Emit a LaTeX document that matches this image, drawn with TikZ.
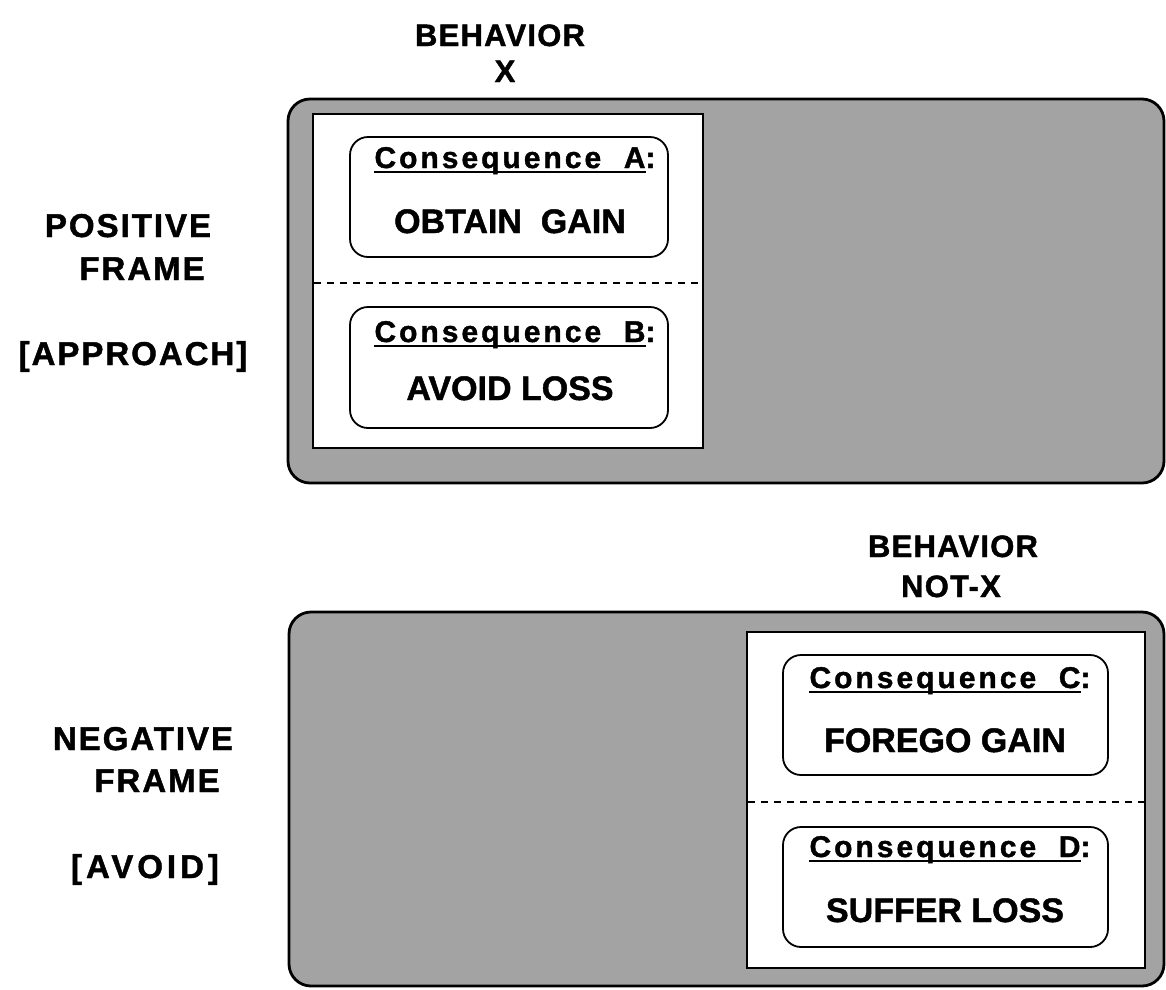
\documentclass[tikz,border=0pt]{standalone}
\usepackage{fontspec}
\setmainfont{Liberation Sans}[BoldFeatures={FakeBold=1.3}]
\newfontfamily\conseqfont{Liberation Sans}[LetterSpace=10,BoldFeatures={FakeBold=1.3}]
\newfontfamily\labfont{Liberation Sans}[LetterSpace=6,BoldFeatures={FakeBold=1.3}]
\newfontfamily\widefont{Liberation Sans}[LetterSpace=12,BoldFeatures={FakeBold=1.3}]
\newfontfamily\behfont{Liberation Sans}[LetterSpace=4,BoldFeatures={FakeBold=1.3}]
\newsavebox\ulbox
\newcommand\ulx[1]{\sbox\ulbox{#1}\rlap{\rule[-5pt]{\wd\ulbox}{2pt}}\usebox\ulbox}
\begin{document}
\begin{tikzpicture}[x=1pt,y=-1pt,
  outerframe/.style={draw=black,line width=2.8pt,fill=black!36,rounded corners=22pt},
  whitebox/.style={draw=black,line width=2.4pt,fill=white},
  consbox/.style={draw=black,line width=1.8pt,fill=white,rounded corners=18pt},
  divider/.style={draw=black,line width=1.6pt,dash pattern=on 7pt off 6pt},
  lab/.style={font=\labfont\bfseries\fontsize{33}{36}\selectfont,anchor=base,inner sep=0pt},
  beh/.style={font=\behfont\bfseries\fontsize{31}{34}\selectfont,anchor=base,inner sep=0pt},
  cons/.style={font=\conseqfont\bfseries\fontsize{30}{33}\selectfont,anchor=base,inner sep=0pt},
  outc/.style={font=\bfseries\fontsize{34}{37}\selectfont,anchor=base,inner sep=0pt}]
\fill[white] (0,0) rectangle (1166,989);
\useasboundingbox (0,0) rectangle (1166,989);
% ---- top frame ----
\path[outerframe] (288,99) rectangle (1164,483);
\path[whitebox] (313,114) rectangle (703,448);
\path[consbox] (350,137) rectangle (668,257);
\path[consbox] (350,307) rectangle (668,428);
\path[divider] (314,283) -- (702,283);
% ---- bottom frame ----
\path[outerframe] (289,612) rectangle (1164,986);
\path[whitebox] (747,632) rectangle (1145,968);
\path[consbox] (783,655) rectangle (1108,775);
\path[consbox] (783,827) rectangle (1108,947);
\path[divider] (748,802) -- (1144,802);
% ---- headings ----
\node[beh] (bx1) at (500,46) {BEHAVIOR};
\node[beh] (bx2) at (505,82) {X};
\node[beh] (bn1) at (953,557) {BEHAVIOR};
\node[beh] (bn2) at (951,597) {NOT-X};
% ---- side labels ----
\node[lab] (pos1) at (128,237) {POSITIVE};
\node[lab] (pos2) at (142,280) {FRAME};
\node[lab] (pos3) at (133,365) {[APPROACH]};
\node[lab] (neg1) at (143,750) {NEGATIVE};
\node[lab] (neg2) at (157,792) {FRAME};
\node[lab,font=\widefont\bfseries\fontsize{33}{36}\selectfont] (neg3) at (145,878) {[AVOID]};
% ---- consequences ----
\node[cons] (ca) at (515,168) {\ulx{Consequence\ \ A}:};
\node[outc] (oa) at (510,233) {OBTAIN\ \ GAIN};
\node[cons] (cb) at (515,342) {\ulx{Consequence\ \ B}:};
\node[outc] (ob) at (510,400) {AVOID LOSS};
\node[cons] (cc) at (950,688) {\ulx{Consequence\ \ C}:};
\node[outc] (oc) at (945,752) {FOREGO GAIN};
\node[cons] (cd) at (950,857) {\ulx{Consequence\ \ D}:};
\node[outc] (od) at (945,922) {SUFFER LOSS};
\end{tikzpicture}
\end{document}
